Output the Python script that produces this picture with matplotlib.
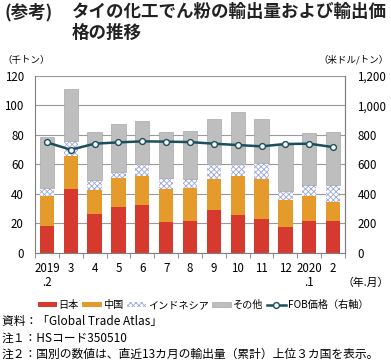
import matplotlib
matplotlib.use("Agg")
import matplotlib.pyplot as plt
import matplotlib.transforms as mtransforms
import numpy as np

plt.rcParams['font.family'] = ['Noto Sans CJK JP', 'DejaVu Sans']
plt.rcParams['hatch.linewidth'] = 0.6

months = ["2019", "3", "4", "5", "6", "7", "8", "9", "10", "11", "12", "2020", "2"]
months_sub = [".2", "", "", "", "", "", "", "", "", "", "", ".1", ""]
japan = [18.1, 42.9, 26.2, 31.0, 32.3, 20.6, 21.2, 28.7, 25.5, 22.8, 17.4, 21.5, 21.2]
china = [20.3, 22.4, 16.5, 19.6, 19.7, 22.3, 22.6, 21.0, 26.7, 26.9, 18.3, 16.9, 13.2]
indonesia = [5.4, 10.2, 6.3, 3.9, 7.9, 7.7, 6.1, 10.2, 7.7, 10.9, 5.9, 7.7, 11.5]
others = [34.8, 35.2, 32.8, 32.7, 29.1, 31.2, 32.6, 30.5, 35.5, 30.2, 31.2, 34.8, 35.9]
fob = [748, 698, 739, 748, 755, 753, 750, 739, 730, 721, 737, 739, 716]

fig = plt.figure(figsize=(3.91, 3.61), dpi=100)
ax = fig.add_axes([35/391, 1-252.7/361, 310/391, 177/361])
x = np.arange(len(months))
w = 0.6
c_red = '#d63a2f'
c_org = '#e59a2c'
c_gry = '#bebebe'
b = np.zeros(len(months))
ax.bar(x, japan, w, color=c_red, label='日本', zorder=2)
b += japan
ax.bar(x, china, w, bottom=b, color=c_org, label='中国', zorder=2)
b += china
ax.bar(x, indonesia, w, bottom=b, facecolor='white', edgecolor='#9aa6dc', hatch='xxxxxx',
       linewidth=0, label='インドネシア', zorder=2)
b += indonesia
ax.bar(x, others, w, bottom=b, color=c_gry, edgecolor='#a8a8a8', linewidth=0.5, label='その他', zorder=2)

ax.set_xlim(-0.5, len(months)-0.5)
ax.set_ylim(0, 120)
ax.set_yticks(range(0, 121, 20))
ax.yaxis.grid(True, color='#9a9a9a', linewidth=0.8, zorder=0)
ax.set_axisbelow(True)
ax.set_xticks(x)
ax.set_xticklabels(months, fontsize=8.3)
ax.set_xticks(np.arange(-0.5, len(months), 1), minor=True)
ax.tick_params(axis='x', which='major', length=0, pad=7)
ax.tick_params(axis='x', which='minor', length=3.5, color='#808080', direction='out')
ax.tick_params(axis='y', length=0, labelsize=8.3, pad=8)
trans = mtransforms.blended_transform_factory(ax.transData, fig.transFigure)
for xi, s in zip(x, months_sub):
    if s:
        ax.text(xi, 1-283/361, s, transform=trans, fontsize=8.3, ha='center', va='center')
ax.spines['top'].set_visible(False)
for s in ['left', 'right', 'bottom']:
    ax.spines[s].set_color('#808080')
    ax.spines[s].set_linewidth(0.8)

ax2 = ax.twinx()
ax2.set_ylim(0, 1200)
ax2.set_yticks(range(0, 1201, 200))
ax2.set_yticklabels([f"{v:,}" for v in range(0, 1201, 200)])
ax2.tick_params(axis='y', length=0, labelsize=8.3, pad=9)
ax2.plot(x, fob, color='#1c4f5e', linewidth=1.8, marker='o', markersize=4.2,
         markerfacecolor='white', markeredgecolor='#1c4f5e', markeredgewidth=1.0,
         label='FOB価格（右軸）', zorder=3)
for s in ['top', 'left', 'bottom']:
    ax2.spines[s].set_visible(False)
ax2.spines['right'].set_color('#808080')
ax2.spines['right'].set_linewidth(0.8)

fig.text(5/391, 1-12/361, '(参考)', fontsize=12.6, fontweight='bold', va='center', ha='left', color='#222222')
fig.text(72/391, 1-12/361, 'タイの化工でん粉の輸出量および輸出価', fontsize=12.6, fontweight='bold', va='center', ha='left', color='#222222')
fig.text(72/391, 1-33/361, '格の推移', fontsize=12.6, fontweight='bold', va='center', ha='left', color='#222222')
fig.text(2/391, 1-60/361, '（千トン）', fontsize=6.8, va='center', ha='left')
fig.text(389/391, 1-60/361, '（米ドル/トン）', fontsize=6.8, va='center', ha='right')
fig.text(389/391, 1-283/361, '（年.月）', fontsize=7.8, va='center', ha='right')

h1, l1 = ax.get_legend_handles_labels()
h2, l2 = ax2.get_legend_handles_labels()
fig.legend(h1+h2, l1+l2, loc='center', bbox_to_anchor=(203/391, 1-305/361), ncol=5,
           frameon=False, fontsize=7.3, handlelength=1.9, handleheight=0.45,
           handletextpad=0.15, columnspacing=0.35, borderaxespad=0)

fig.text(2/391, 1-322/361, '資料：「Global Trade Atlas」', fontsize=8.5, va='center', ha='left')
fig.text(2/391, 1-338/361, '注１：HSコード350510', fontsize=8.5, va='center', ha='left')
fig.text(2/391, 1-354/361, '注２：国別の数値は、直近13カ月の輸出量（累計）上位３カ国を表示。', fontsize=8.5, va='center', ha='left')

fig.savefig('out.png', dpi=100)
